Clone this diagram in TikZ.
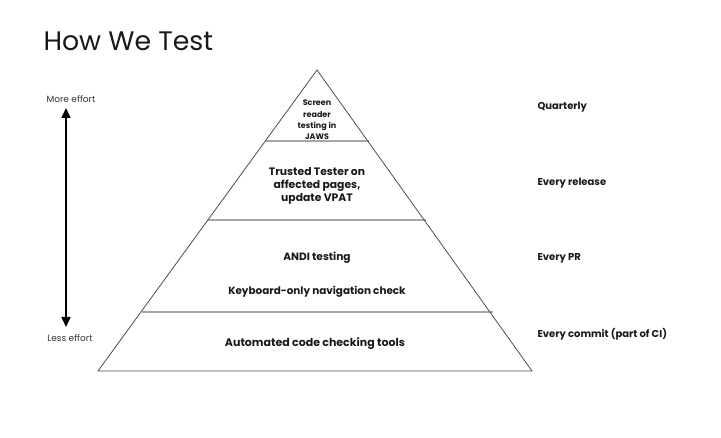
\documentclass[tikz,border=0pt]{standalone}
\usepackage{fontspec}
\setmainfont{Poppins}
\usetikzlibrary{arrows.meta}
\begin{document}
\begin{tikzpicture}[x=1pt,y=-1pt,
  outline/.style={draw=black!70, line width=0.8pt},
  divider/.style={draw=black!35, line width=1.2pt},
  tier/.style={font=\fontsize{11}{13}\selectfont\bfseries, align=center, text=black!90},
  freq/.style={font=\fontsize{10}{12}\selectfont\bfseries, anchor=west, text=black!90},
  effort/.style={font=\fontsize{9}{10}\selectfont, text=black!80}]
\useasboundingbox (0,0) rectangle (721,438);
\node[anchor=west, font=\fontsize{26.8}{30}\selectfont, text=black!90] (title) at (40,41) {How We Test};
% pyramid
\coordinate (apex) at (317,70);
\coordinate (bl) at (98,371);
\coordinate (br) at (532,371);
\coordinate (l1) at (265.5,141); \coordinate (r1) at (368.5,141);
\coordinate (l2) at (208,220); \coordinate (r2) at (426,220);
\coordinate (l3) at (141.5,312); \coordinate (r3) at (492.5,312);
\draw[divider] (l1) -- (r1);
\draw[divider] (l2) -- (r2);
\draw[divider] (l3) -- (r3);
\draw[outline] (apex) -- (br) -- (bl) -- cycle;
% tier texts
\node[tier, font=\fontsize{8}{11.3}\selectfont\bfseries] (t1) at (317,120) {Screen\\reader\\testing in\\JAWS};
\node[tier, font=\fontsize{10.8}{13}\selectfont\bfseries] (t2) at (317,186) {Trusted Tester on\\affected pages,\\update VPAT};
\node[tier, font=\fontsize{10.6}{12}\selectfont\bfseries] (t3a) at (317,258) {ANDI testing};
\node[tier, font=\fontsize{10.4}{12}\selectfont\bfseries] (t3b) at (317,292) {Keyboard-only navigation check};
\node[tier] (t4) at (315,344) {Automated code checking tools};
% frequency labels
\node[freq] (f1) at (534,107) {Quarterly};
\node[freq] (f2) at (534,183) {Every release};
\node[freq] (f3) at (534,258) {Every PR};
\node[freq] (f4) at (534,334) {Every commit (part of CI)};
% effort arrow
\node[effort] (more) at (71,99) {More effort};
\node[effort] (less) at (70,338) {Less effort};
\coordinate (atop) at (66,108);
\coordinate (abot) at (66,327);
\draw[line width=1.6pt, {Triangle[length=10pt,width=9pt]}-{Triangle[length=10pt,width=9pt]}] (atop) -- (abot);
\end{tikzpicture}
\end{document}
